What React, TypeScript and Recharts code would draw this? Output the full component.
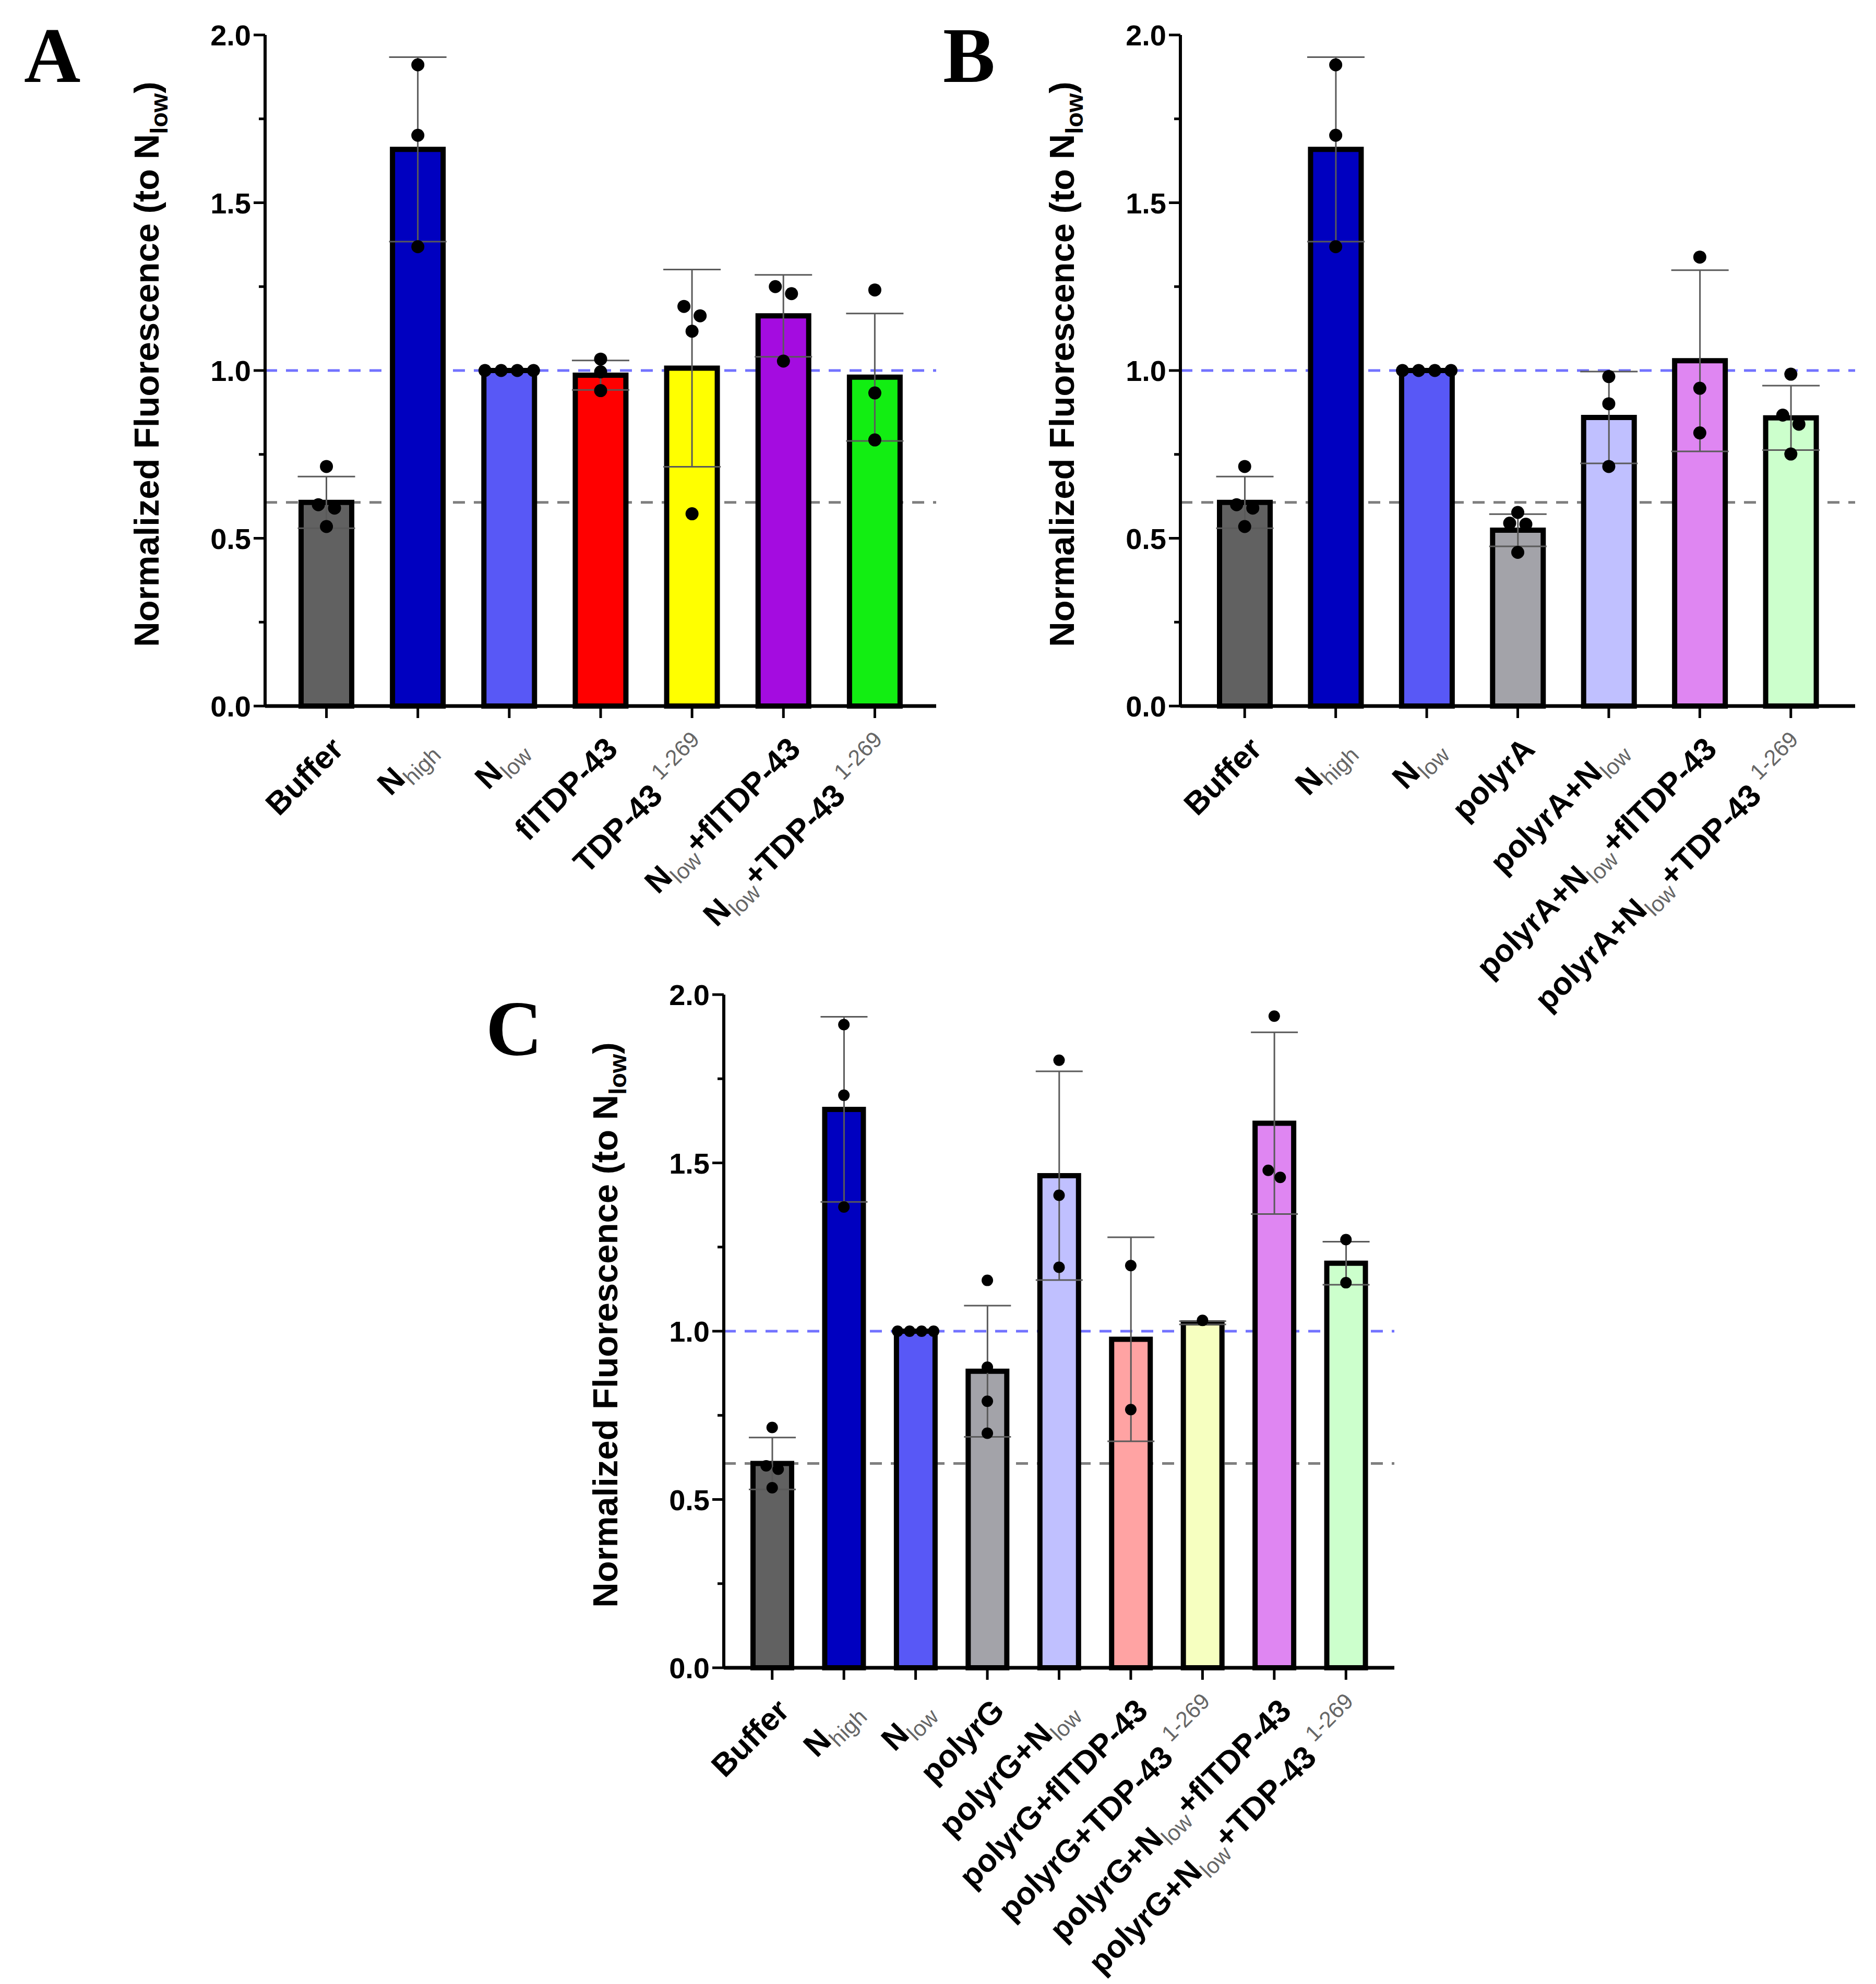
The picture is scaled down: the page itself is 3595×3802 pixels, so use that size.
import {
  Bar,
  Cell,
  ComposedChart,
  ErrorBar,
  Label,
  ReferenceLine,
  Scatter,
  XAxis,
  YAxis,
} from "recharts"

const FONT = '"Liberation Sans", Arial, Helvetica, sans-serif'
const SERIF = '"Liberation Serif", "Times New Roman", serif'

// shared controls (Buffer, Nhigh, Nlow)
const controlLabels = ["Buffer", "N_{high}", "N_{low}"]
const controlMeans = [0.607, 1.659, 1.0]
const controlSd = [0.077, 0.275, 0]
const controlPoints = [
  [0.714, 0.6, 0.59, 0.535],
  [1.911, 1.701, 1.369],
  [1, 1, 1, 1],
]
const controlColors = ["#616161", "#0000c0", "#5858f6"]

// panel A
const panelALabels = [
  ...controlLabels,
  "flTDP-43",
  "TDP-43 ^{1-269}",
  "N_{low}+flTDP-43",
  "N_{low}+TDP-43 ^{1-269}",
]
const panelAMeans = [...controlMeans, 0.986, 1.007, 1.163, 0.98]
const panelASd = [...controlSd, 0.044, 0.294, 0.122, 0.19]
const panelAPoints = [
  ...controlPoints,
  [1.034, 0.996, 0.94],
  [1.191, 1.163, 1.117, 0.573],
  [1.25, 1.229, 1.028],
  [1.24, 0.933, 0.793],
]
const panelAColors = [...controlColors, "#ff0000", "#ffff00", "#a40ce0", "#12ee12"]

// panel B
const panelBLabels = [
  ...controlLabels,
  "polyrA",
  "polyrA+N_{low}",
  "polyrA+N_{low}+flTDP-43",
  "polyrA+N_{low}+TDP-43 ^{1-269}",
]
const panelBMeans = [...controlMeans, 0.524, 0.86, 1.029, 0.859]
const panelBSd = [...controlSd, 0.048, 0.137, 0.27, 0.096]
const panelBPoints = [
  ...controlPoints,
  [0.577, 0.545, 0.542, 0.458],
  [0.982, 0.901, 0.714],
  [1.338, 0.947, 0.814],
  [0.989, 0.867, 0.84, 0.751],
]
const panelBColors = [...controlColors, "#a3a3a9", "#c0c0ff", "#df86f2", "#ccffcc"]

// panel C
const panelCLabels = [
  ...controlLabels,
  "polyrG",
  "polyrG+N_{low}",
  "polyrG+flTDP-43",
  "polyrG+TDP-43 ^{1-269}",
  "polyrG+N_{low}+flTDP-43",
  "polyrG+N_{low}+TDP-43 ^{1-269}",
]
const panelCMeans = [...controlMeans, 0.881, 1.462, 0.976, 1.025, 1.618, 1.202]
const panelCSd = [...controlSd, 0.195, 0.31, 0.303, 0.005, 0.27, 0.064]
const panelCPoints = [
  ...controlPoints,
  [1.151, 0.893, 0.792, 0.697],
  [1.805, 1.404, 1.19],
  [1.195, 0.767],
  [1.032],
  [1.936, 1.478, 1.457],
  [1.272, 1.144],
]
const panelCColors = [
  ...controlColors,
  "#a3a3a9",
  "#c0c0ff",
  "#ffa3a3",
  "#f6ffc0",
  "#df86f2",
  "#ccffcc",
]

const Y_TICKS = [0, 0.25, 0.5, 0.75, 1, 1.25, 1.5, 1.75, 2]
const BASELINE_HIGH = 1.0
const BASELINE_LOW = 0.607

type Segment = { text: string; kind: "normal" | "sub" | "sup" }

function splitLabel(label: string): Segment[] {
  return label
    .split(/(_\{[^}]*\}|\^\{[^}]*\})/)
    .filter(Boolean)
    .map((p) =>
      p.startsWith("_{")
        ? { text: p.slice(2, -1), kind: "sub" as const }
        : p.startsWith("^{")
          ? { text: p.slice(2, -1), kind: "sup" as const }
          : { text: p, kind: "normal" as const },
    )
}

function renderSegments(segs: Segment[], fontSize: number, smallFill: string, smallWeight: number) {
  let shift = 0
  return segs.map((s, i) => {
    const target = s.kind === "sub" ? 0.25 * fontSize : s.kind === "sup" ? -0.45 * fontSize : 0
    const dy = target - shift
    shift = target
    const small = s.kind !== "normal"
    return (
      <tspan
        key={i}
        dy={dy}
        fontSize={small ? fontSize * 0.7 : fontSize}
        fontWeight={small ? smallWeight : 700}
        fill={small ? smallFill : "#000"}
      >
        {s.text}
      </tspan>
    )
  })
}

// spread dots that sit on the same height, like a column scatter
function withSlots(values: number[]) {
  const order = values.map((v, i) => ({ v, i })).sort((a, b) => b.v - a.v)
  const slots = new Array(values.length).fill(0)
  let group: { v: number; i: number }[] = []
  const flush = () => {
    group.forEach((g, j) => (slots[g.i] = j - (group.length - 1) / 2))
    group = []
  }
  order.forEach((o) => {
    if (group.length && group[0].v - o.v >= 0.03) flush()
    group.push(o)
  })
  flush()
  return values.map((v, i) => ({ v, slot: slots[i] }))
}

function YTick(props: any) {
  const { x, y, payload } = props
  const axisX = x + 27
  const major = Math.abs(payload.value * 2 - Math.round(payload.value * 2)) < 1e-6
  return (
    <g>
      <line x1={axisX - (major ? 22 : 12)} x2={axisX} y1={y} y2={y} stroke="#000" strokeWidth={5} />
      {major && (
        <text
          x={x}
          y={y}
          dy="0.36em"
          textAnchor="end"
          fontFamily={FONT}
          fontSize={56}
          fontWeight={700}
          fill="#000"
        >
          {payload.value.toFixed(1)}
        </text>
      )}
    </g>
  )
}

function XTick(props: any) {
  const { x, y, payload } = props
  const ax = x + 36
  const ay = y + 63
  return (
    <text
      x={ax}
      y={ay}
      transform={`rotate(-45 ${ax} ${ay})`}
      textAnchor="end"
      fontFamily={FONT}
      fontSize={61}
      fontWeight={700}
      style={{ whiteSpace: "pre" }}
    >
      {renderSegments(splitLabel(payload.value), 61, "#666", 400)}
    </text>
  )
}

function YTitle(props: any) {
  const { viewBox } = props
  const cx = viewBox.x + viewBox.width - 204
  const cy = viewBox.y + viewBox.height / 2 - 12
  return (
    <text
      x={cx}
      y={cy}
      dy="0.36em"
      transform={`rotate(-90 ${cx} ${cy})`}
      textAnchor="middle"
      fontFamily={FONT}
      fontSize={67}
      fontWeight={700}
      style={{ whiteSpace: "pre" }}
    >
      {renderSegments(splitLabel("Normalized Fluorescence (to N_{low})"), 67, "#000", 700)}
    </text>
  )
}

type PanelProps = {
  labels: string[]
  means: number[]
  sd: number[]
  points: number[][]
  colors: string[]
  left: number
  top: number
  width: number
  height: number
  yAxisWidth: number
  xAxisHeight: number
  margin: { top: number; right: number; bottom: number; left: number }
  padding: number
  barSize: number
  capWidth: number
  dotRadius: number
  dotSpacing: number
}

function Panel(p: PanelProps) {
  const rows = p.labels.map((name, i) => ({ name, mean: p.means[i], sd: p.sd[i] }))
  const dots = p.labels.flatMap((name, i) =>
    withSlots(p.points[i]).map(({ v, slot }) => ({ name, v, slot })),
  )
  return (
    <div style={{ position: "absolute", left: p.left, top: p.top }}>
      <ComposedChart width={p.width} height={p.height} data={rows} margin={p.margin}>
        <ReferenceLine
          y={BASELINE_HIGH}
          stroke="#7272ff"
          strokeWidth={5}
          strokeDasharray="23 17"
          zIndex={50}
        />
        <ReferenceLine
          y={BASELINE_LOW}
          stroke="#7f7f7f"
          strokeWidth={5}
          strokeDasharray="23 17"
          zIndex={50}
        />
        <XAxis
          dataKey="name"
          type="category"
          allowDuplicatedCategory={false}
          interval={0}
          height={p.xAxisHeight}
          padding={{ left: p.padding, right: p.padding }}
          tickSize={23}
          tickMargin={0}
          tickLine={{ stroke: "#000", strokeWidth: 5 }}
          axisLine={{ stroke: "#000", strokeWidth: 7 }}
          tick={(t: any) => <XTick {...t} />}
        />
        <YAxis
          type="number"
          domain={[0, 2]}
          ticks={Y_TICKS}
          interval={0}
          width={p.yAxisWidth}
          tickSize={22}
          tickMargin={5}
          tickLine={false}
          axisLine={{ stroke: "#000", strokeWidth: 6 }}
          tick={(t: any) => <YTick {...t} />}
        >
          <Label content={(l: any) => <YTitle {...l} />} />
        </YAxis>
        <Bar
          dataKey="mean"
          barSize={p.barSize}
          stroke="#000"
          strokeWidth={10}
          isAnimationActive={false}
        >
          {rows.map((r, i) => (
            <Cell key={r.name} fill={p.colors[i]} />
          ))}
          <ErrorBar
            dataKey="sd"
            width={p.capWidth}
            stroke="#5a5a5a"
            strokeWidth={3}
            direction="y"
            isAnimationActive={false}
          />
        </Bar>
        <Scatter
          data={dots}
          dataKey="v"
          fill="#000"
          isAnimationActive={false}
          shape={(s: any) => (
            <circle
              cx={s.cx + s.payload.slot * p.dotSpacing}
              cy={s.cy}
              r={p.dotRadius}
              fill="#000"
            />
          )}
        />
      </ComposedChart>
    </div>
  )
}

export default function App() {
  return (
    <div
      style={{
        position: "absolute",
        left: 0,
        top: 0,
        width: 3595,
        height: 3802,
        background: "#fff",
        overflow: "hidden",
      }}
    >
      <Panel
        labels={panelALabels}
        means={panelAMeans}
        sd={panelASd}
        points={panelAPoints}
        colors={panelAColors}
        left={0}
        top={0}
        width={1800}
        height={2100}
        yAxisWidth={508}
        xAxisHeight={740}
        margin={{ top: 67, right: 6, bottom: 7, left: 0 }}
        padding={30}
        barSize={97}
        capWidth={55}
        dotRadius={12.5}
        dotSpacing={31}
      />
      <Panel
        labels={panelBLabels}
        means={panelBMeans}
        sd={panelBSd}
        points={panelBPoints}
        colors={panelBColors}
        left={1795}
        top={0}
        width={1800}
        height={2100}
        yAxisWidth={467}
        xAxisHeight={740}
        margin={{ top: 67, right: 40, bottom: 7, left: 0 }}
        padding={36}
        barSize={97}
        capWidth={55}
        dotRadius={12.5}
        dotSpacing={31}
      />
      <Panel
        labels={panelCLabels}
        means={panelCMeans}
        sd={panelCSd}
        points={panelCPoints}
        colors={panelCColors}
        left={900}
        top={1850}
        width={1800}
        height={1950}
        yAxisWidth={487}
        xAxisHeight={560}
        margin={{ top: 56, right: 28, bottom: 44, left: 0 }}
        padding={24}
        barSize={74}
        capWidth={45}
        dotRadius={11}
        dotSpacing={23}
      />
      <svg
        width={3595}
        height={3802}
        style={{ position: "absolute", left: 0, top: 0, pointerEvents: "none" }}
      >
        <text x={46} y={157} fontFamily={SERIF} fontSize={150} fontWeight={700}>
          A
        </text>
        <text x={1807} y={157} fontFamily={SERIF} fontSize={150} fontWeight={700}>
          B
        </text>
        <text x={931} y={2022} fontFamily={SERIF} fontSize={150} fontWeight={700}>
          C
        </text>
      </svg>
    </div>
  )
}
